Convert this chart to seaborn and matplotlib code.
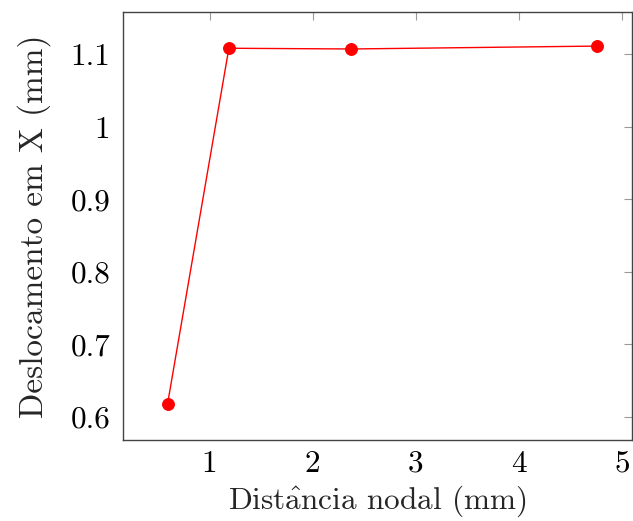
import matplotlib
matplotlib.use("Agg")
import matplotlib.pyplot as plt
import seaborn as sns
import pandas as pd

# distância nodal (mm) e deslocamento em X (mm)
distancia = [0.59375, 1.1875, 2.375, 4.75]
deslocamento = [0.618, 1.108, 1.107, 1.111]

x_ticks = [1, 2, 3, 4, 5]
y_ticks = [0.6, 0.7, 0.8, 0.9, 1.0, 1.1]
y_tick_labels = ["0.6", "0.7", "0.8", "0.9", "1", "1.1"]

sns.set_style("white")
plt.rcParams["font.family"] = ["cmr10", "DejaVu Serif"]
plt.rcParams["mathtext.fontset"] = "cm"
plt.rcParams["axes.formatter.use_mathtext"] = True

df = pd.DataFrame({"dist": distancia, "desl": deslocamento})

fig = plt.figure(figsize=(6.33, 5.21), dpi=100)
ax = fig.add_axes([0.194, 0.1555, 0.804, 0.8215])

sns.lineplot(data=df, x="dist", y="desl", ax=ax, color="red", linewidth=1,
             marker="o", markersize=8.5, markeredgecolor="red", estimator=None)

ax.set_xlim(0.16, 5.09)
ax.set_ylim(0.568, 1.158)
ax.set_xticks(x_ticks)
ax.set_xticklabels([str(t) for t in x_ticks])
ax.set_yticks(y_ticks)
ax.set_yticklabels(y_tick_labels)

ax.tick_params(direction="in", length=6, width=0.8, color="#999999",
               labelsize=22.5, top=True, right=True, labelcolor="black")
ax.tick_params(axis="x", pad=7)
ax.tick_params(axis="y", pad=9)
for s in ax.spines.values():
    s.set_color("#444444")
    s.set_linewidth(1)

ax.set_xlabel(r"Dist$\hat{\mathrm{a}}$ncia nodal (mm)", fontsize=22.5, labelpad=4.5)
ax.set_ylabel("Deslocamento em X (mm)", fontsize=24, labelpad=14)

fig.savefig("out.png", dpi=100)
